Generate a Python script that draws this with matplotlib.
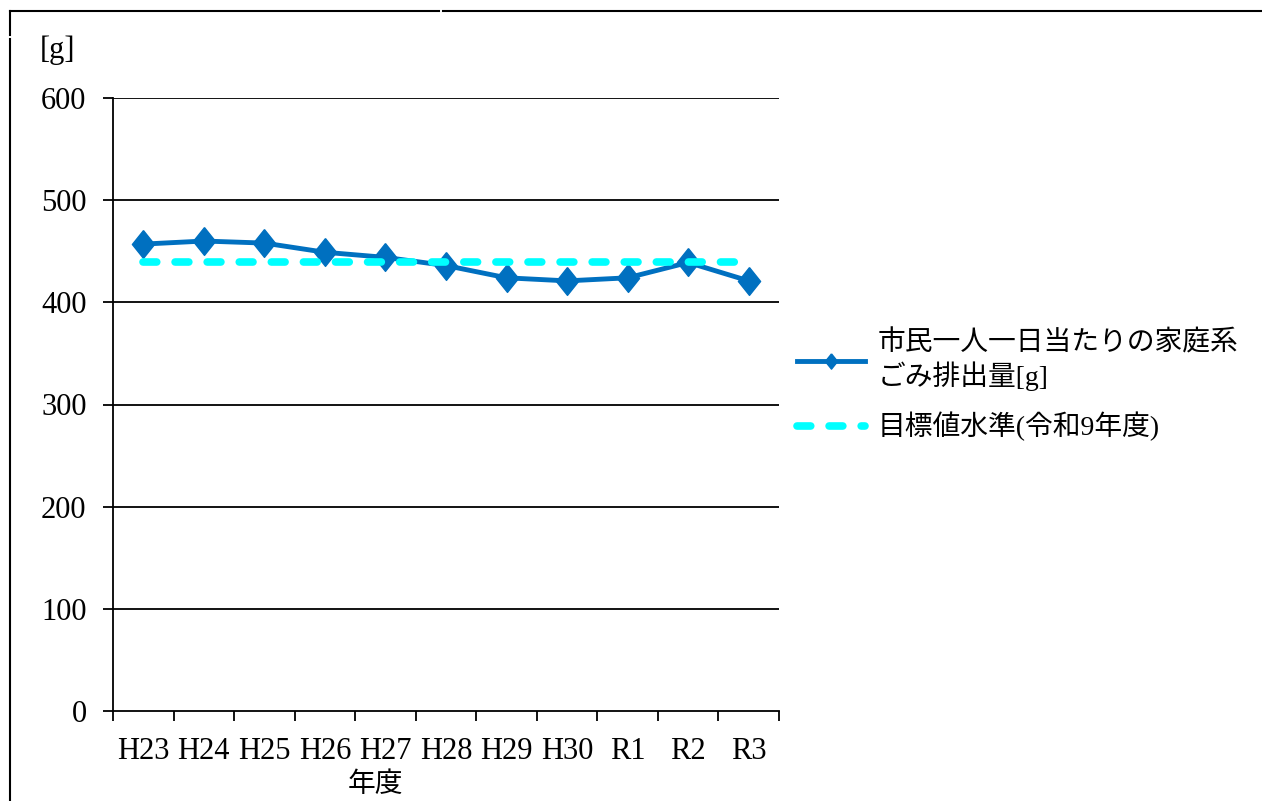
import matplotlib.pyplot as plt
from matplotlib.lines import Line2D

plt.rcParams['font.family'] = ['Liberation Serif', 'Noto Sans CJK JP']

years = ['H23', 'H24', 'H25', 'H26', 'H27', 'H28', 'H29', 'H30', 'R1', 'R2', 'R3']
per_person = [457, 460, 458, 449, 444, 436, 424, 421, 424, 439, 421]
target = [439] * len(years)
yticks = [0, 100, 200, 300, 400, 500, 600]

W, H = 1262, 801
fig = plt.figure(figsize=(W / 100, H / 100), dpi=100)
ax = fig.add_axes([113 / W, 1 - 711 / H, 666 / W, 613 / H])

x = range(len(years))
diamond = [(0, 1), (0.8, 0), (0, -1), (-0.8, 0), (0, 1)]
ax.plot(x, per_person, color='#0070C0', lw=3.5, marker=diamond, ms=20,
        label='市民一人一日当たりの家庭系\nごみ排出量[g]', zorder=3)
tl, = ax.plot(x, target, color='#00FFFF', lw=5.5, dash_capstyle='round',
              label='目標値水準(令和9年度)', zorder=4)
tl.set_dashes((1.8, 2.4))

ax.set_xlim(-0.5, len(years) - 0.5)
ax.set_ylim(0, 600)
ax.set_yticks(yticks)
ax.set_xticks([i for i in x])
ax.set_xticklabels(years)
ax.set_xticks([i - 0.5 for i in range(len(years) + 1)], minor=True)
ax.tick_params(axis='x', which='major', length=0, pad=19, labelsize=22)
ax.tick_params(axis='x', which='minor', length=7, width=1.3, direction='out')
ax.tick_params(axis='y', length=7, width=1.3, pad=12, labelsize=22)
for v in yticks[1:]:
    ax.axhline(v, color='black', lw=1.3, zorder=1)
for s in ['top', 'right']:
    ax.spines[s].set_visible(False)
for s in ['left', 'bottom']:
    ax.spines[s].set_linewidth(1.3)

fig.text(40 / W, 1 - 50 / H, '[g]', fontsize=22, va='center')
fig.text(375 / W, 1 - 785 / H, '年度', fontsize=20, ha='center', va='center')

ax.legend(loc='center left', bbox_to_anchor=(797 / W, 1 - 386 / H),
          bbox_transform=fig.transFigure, frameon=False, fontsize=20,
          borderpad=0, borderaxespad=0,
          handlelength=2.45, handletextpad=0.45, markerscale=0.55,
          labelspacing=0.75)

# outer frame of the chart area
frame = dict(color='black', lw=1.5)
fig.add_artist(Line2D([10 / W, 439 / W], [1 - 11 / H] * 2, **frame))
fig.add_artist(Line2D([443 / W, 1], [1 - 11 / H] * 2, **frame))
fig.add_artist(Line2D([10 / W] * 2, [1 - 11 / H, 1 - 35 / H], **frame))
fig.add_artist(Line2D([10 / W] * 2, [0, 1 - 39 / H], **frame))

fig.savefig('out.png', dpi=100)
